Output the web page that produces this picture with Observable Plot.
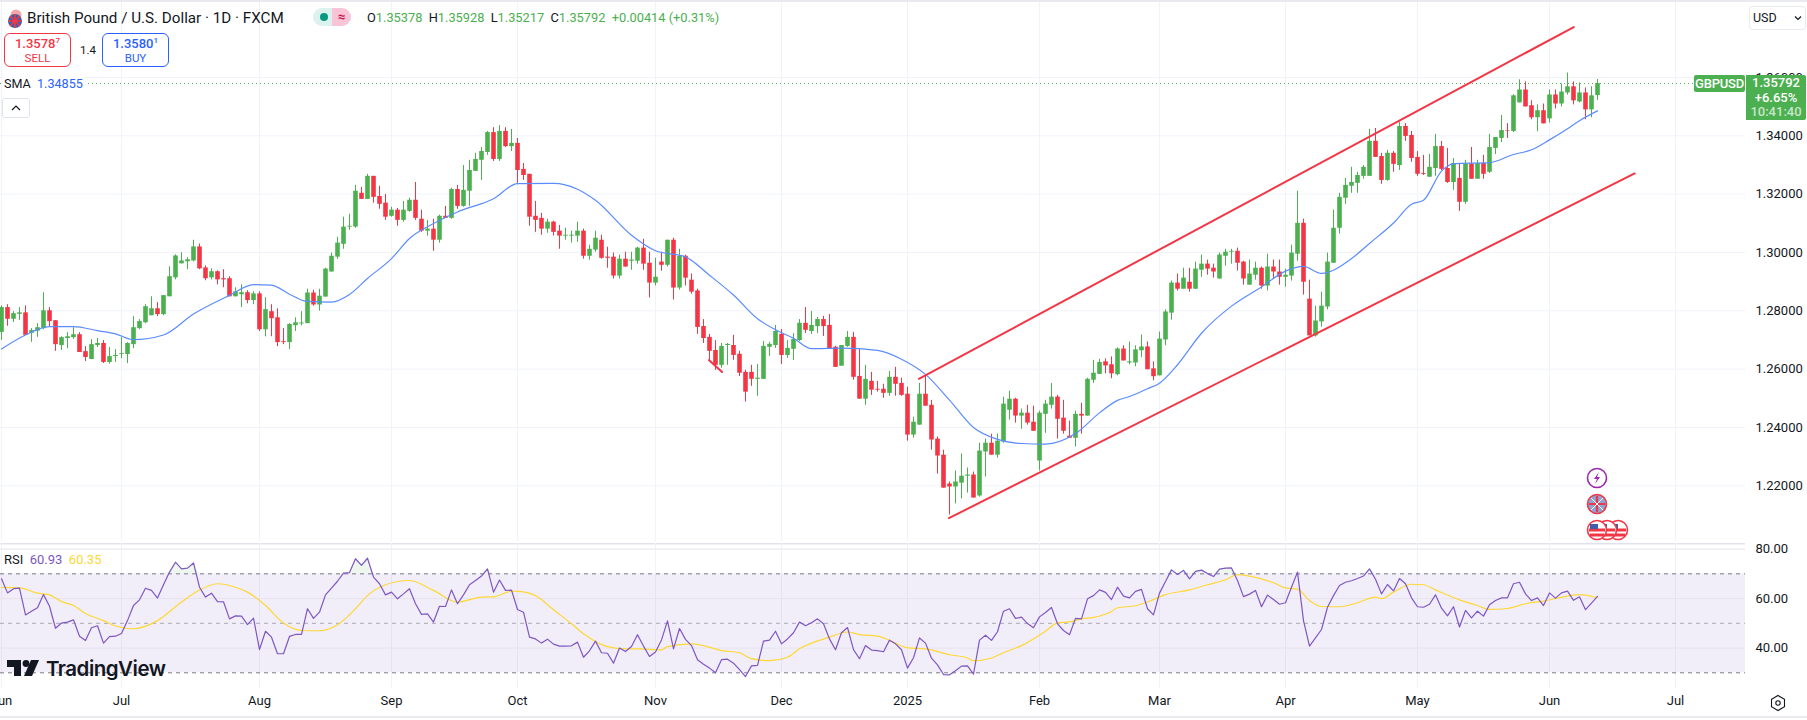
<!DOCTYPE html>
<html>
<head>
<meta charset="utf-8">
<script src="https://cdn.jsdelivr.net/npm/d3@7"></script>
<script src="https://cdn.jsdelivr.net/npm/@observablehq/plot@0.6"></script>
<style>
  html, body { margin: 0; padding: 0; background: #fff; }
  body { width: 1807px; height: 720px; overflow: hidden; font-family: Roboto, sans-serif; color: #131722; }
  #wrap { position: relative; width: 1807px; height: 720px; overflow: hidden; }
  #wrap svg { display: block; }
  .t { position: absolute; white-space: nowrap; font-size: 13px; line-height: 16px; }
  .g { color: #4caf50; }
  .box { position: absolute; box-sizing: border-box; border-radius: 6px; background: #fff; text-align: center; border: 1px solid; }
  .box b { display: block; font-weight: 500; font-size: 13px; line-height: 15px; margin-top: 2px; }
  .box i { display: block; font-style: normal; font-size: 11.5px; line-height: 14px; }
  .box sup { font-size: 8px; line-height: 0; }
  .tag { position: absolute; background: #4caf50; color: #fff; text-align: center; }
</style>
</head>
<body>
<div id="wrap">
  <div id="price" style="position:absolute;left:0;top:0"></div>
  <div id="rsi" style="position:absolute;left:0;top:543px"></div>

  <div style="position:absolute;left:0;top:0;width:1807px;height:2px;background:#e8eaf0"></div>
  <div style="position:absolute;left:0;top:716px;width:1807px;height:2px;background:#e8eaf0"></div>

  <!-- legend -->
  <svg style="position:absolute;left:4px;top:8px" width="22" height="22">
    <circle cx="12" cy="7" r="5.5" fill="#f2a7a7"/>
    <circle cx="11" cy="13" r="7" fill="#3f5fa8"/>
    <path d="M4 13h14M11 6v14M6 8l10 10M16 8L6 18" stroke="#f23645" stroke-width="1.6"/>
  </svg>
  <div class="t" style="left:27px;top:10px;font-size:15.2px">British Pound / U.S. Dollar · 1D · FXCM</div>
  <div style="position:absolute;left:313px;top:8px;width:19px;height:18px;background:#dcf2ef;border-radius:9px 0 0 9px"></div>
  <div style="position:absolute;left:332px;top:8px;width:19px;height:18px;background:#f8c4d6;border-radius:0 9px 9px 0;color:#d1104e;font-size:13px;line-height:18px;text-align:center;font-weight:700">≈</div>
  <div style="position:absolute;left:320px;top:13px;width:8px;height:8px;background:#089981;border-radius:50%"></div>
  <div class="t" style="left:367px;top:10px;font-size:12.8px">O<span class="g">1.35378</span>&nbsp;&nbsp;H<span class="g">1.35928</span>&nbsp;&nbsp;L<span class="g">1.35217</span>&nbsp;&nbsp;C<span class="g">1.35792</span>&nbsp;&nbsp;<span class="g">+0.00414 (+0.31%)</span></div>

  <div class="box" style="left:4px;top:33px;width:67px;height:34px;border-color:#f23645;color:#f23645"><b>1.3578<sup>7</sup></b><i>SELL</i></div>
  <div class="t" style="left:80px;top:42px;font-size:11.5px">1.4</div>
  <div class="box" style="left:102px;top:33px;width:67px;height:34px;border-color:#2962ff;color:#2962ff"><b>1.3580<sup>1</sup></b><i>BUY</i></div>

  <div class="t" style="left:4px;top:76px;background:#fff;padding-right:2px;font-size:12.6px">SMA&nbsp;&nbsp;<span style="color:#2962ff">1.34855</span></div>
  <div style="position:absolute;left:2px;top:98px;width:28px;height:20px;box-sizing:border-box;border:1px solid #e0e3eb;border-radius:3px;background:#fff">
    <svg width="26" height="18"><path d="M9 11l4-4 4 4" fill="none" stroke="#131722" stroke-width="1.2"/></svg>
  </div>

  <!-- right scale -->
  <div style="position:absolute;left:1749px;top:6px;width:57px;height:24px;box-sizing:border-box;border:1px solid #e8eaf0;border-radius:4px;background:#fff"></div>
  <div class="t" style="left:1753px;top:10px;font-size:12.5px">USD</div>
  <svg style="position:absolute;left:1794px;top:15px" width="9" height="7"><path d="M1 1.5l3 3 3-3" fill="none" stroke="#131722" stroke-width="1.2"/></svg>
  <div class="tag" style="left:1694px;top:75px;width:51px;height:17px;border-radius:2px;font-size:13px;line-height:17px;font-weight:500;letter-spacing:-0.2px">GBPUSD</div>
  <div class="tag" style="left:1746px;top:75px;width:60px;height:45px;border-radius:0 2px 2px 0;font-size:13px;line-height:14.5px;font-weight:500;padding-top:1px;box-sizing:border-box">1.35792<br>+6.65%<br><span style="color:#c8e6c9">10:41:40</span></div>

  <!-- event icons -->
  <svg style="position:absolute;left:1580px;top:465px" width="60" height="78">
    <circle cx="17" cy="13" r="9.5" fill="#fff" stroke="#9c27b0" stroke-width="1.6"/>
    <path d="M19 7l-5 7h3l-2 5 5-7h-3z" fill="#9c27b0"/>
    <circle cx="17" cy="39" r="9.5" fill="#8ea4d2" stroke="#f23645" stroke-width="1.6"/>
    <path d="M9 39h16M17 31v16" stroke="#e8394f" stroke-width="2.2"/><path d="M11 33l12 12M23 33L11 45" stroke="#fff" stroke-width="1"/>
    <circle cx="38" cy="65" r="9.5" fill="#fff" stroke="#f23645" stroke-width="1.6"/>
    <path d="M30 65h16M31 70h14" stroke="#f23645" stroke-width="3"/><path d="M30 59h8v5h-8z" fill="#3f5fa8"/>
    <circle cx="27" cy="65" r="9.5" fill="#fff" stroke="#f23645" stroke-width="1.6"/>
    <path d="M19 65h16M20 70h14" stroke="#f23645" stroke-width="3"/><path d="M19 59h8v5h-8z" fill="#3f5fa8"/>
    <circle cx="17" cy="65" r="9.5" fill="#fff" stroke="#f23645" stroke-width="1.6"/>
    <path d="M9 65h16M10 70h14" stroke="#f23645" stroke-width="3"/><path d="M10 59h8v5h-8z" fill="#3f5fa8"/>
  </svg>

  <!-- rsi legend -->
  <div class="t" style="left:4px;top:552px;font-size:13px">RSI&nbsp;&nbsp;<span style="color:#7e57c2">60.93</span>&nbsp;&nbsp;<span style="color:#fdd835">60.35</span></div>

  <!-- logo -->
  <svg style="position:absolute;left:7px;top:659px" width="34" height="18">
    <path d="M0 1h14v16H7V8H0z" fill="#131722"/>
    <circle cx="19" cy="4.5" r="3.4" fill="#131722"/>
    <path d="M24 1h8l-7 16h-8z" fill="#131722"/>
  </svg>
  <div class="t" style="left:46px;top:656px;font-size:20.5px;line-height:26px;font-weight:600;letter-spacing:-0.5px;font-family:Inter,Roboto,sans-serif">TradingView</div>

  <!-- settings -->
  <svg style="position:absolute;left:1769px;top:694px" width="18" height="18">
    <path d="M9 1.5l6.5 3.8v7.4L9 16.5l-6.5-3.8V5.3z" fill="none" stroke="#131722" stroke-width="1.1"/>
    <circle cx="9" cy="9" r="2.2" fill="none" stroke="#131722" stroke-width="1.1"/>
  </svg>
</div>

<script>
// GBPUSD daily candles, one value per session
const opens = [
  1.2726,1.2811,1.2771,1.2788,1.2793,1.2723,1.2730,1.2739,1.2800,1.2766,
  1.2681,1.2705,1.2708,1.2718,1.2660,1.2633,1.2681,1.2688,1.2623,1.2643,
  1.2650,1.2650,1.2684,1.2739,1.2759,1.2783,1.2807,1.2787,1.2848,1.2913,
  1.2961,1.2968,1.2971,1.3019,1.2947,1.2913,1.2934,1.2910,1.2910,1.2848,
  1.2855,1.2862,1.2835,1.2858,1.2735,1.2797,1.2776,1.2694,1.2691,1.2749,
  1.2755,1.2756,1.2861,1.2820,1.2847,1.2933,1.2984,1.3028,1.3087,1.3087,
  1.3203,1.3182,1.3261,1.3192,1.3169,1.3124,1.3145,1.3110,1.3141,1.3179,
  1.3114,1.3073,1.3080,1.3042,1.3124,1.3117,1.3216,1.3158,1.3210,1.3278,
  1.3316,1.3343,1.3411,1.3319,1.3415,1.3363,1.3374,1.3285,1.3268,1.3124,
  1.3117,1.3080,1.3104,1.3073,1.3056,1.3056,1.3056,1.3073,1.2987,1.3008,
  1.3042,1.2984,1.2984,1.2919,1.2977,1.2970,1.2970,1.3015,1.2963,1.2895,
  1.2967,1.2956,1.3042,1.2878,1.2987,1.2905,1.2868,1.2746,1.2709,1.2664,
  1.2613,1.2681,1.2681,1.2651,1.2589,1.2589,1.2565,1.2565,1.2675,1.2681,
  1.2719,1.2647,1.2668,1.2698,1.2757,1.2729,1.2746,1.2770,1.2750,1.2675,
  1.2610,1.2678,1.2709,1.2575,1.2497,1.2558,1.2531,1.2531,1.2517,1.2572,
  1.2551,1.2514,1.2374,1.2408,1.2514,1.2476,1.2360,1.2305,1.2206,1.2196,
  1.2209,1.2233,1.2237,1.2165,1.2316,1.2346,1.2305,1.2350,1.2459,1.2497,
  1.2439,1.2449,1.2418,1.2285,1.2445,1.2476,1.2504,1.2432,1.2370,1.2363,
  1.2445,1.2439,1.2562,1.2582,1.2625,1.2615,1.2581,1.2669,1.2621,1.2621,
  1.2663,1.2676,1.2601,1.2577,1.2700,1.2792,1.2895,1.2874,1.2898,1.2874,
  1.2939,1.2960,1.2946,1.2909,1.2987,1.3001,1.3004,1.2967,1.2888,1.2922,
  1.2946,1.2885,1.2950,1.2933,1.2915,1.2919,1.2994,1.3100,1.2840,1.2714,
  1.2762,1.2813,1.2963,1.3083,1.3186,1.3227,1.3237,1.3261,1.3261,1.3381,
  1.3329,1.3247,1.3340,1.3298,1.3432,1.3401,1.3326,1.3271,1.3258,1.3288,
  1.3363,1.3288,1.3240,1.3254,1.3172,1.3303,1.3251,1.3305,1.3275,1.3357,
  1.3391,1.3418,1.3415,1.3513,1.3557,1.3503,1.3462,1.3486,1.3458,1.3540,
  1.3509,1.3547,1.3568,1.3516,1.3547,1.3489,1.35378
];
const highs = [
  1.2817,1.2821,1.2797,1.2811,1.2817,1.2739,1.2756,1.2862,1.2811,1.2766,
  1.2711,1.2725,1.2742,1.2725,1.2677,1.2701,1.2705,1.2698,1.2674,1.2667,
  1.2708,1.2691,1.2780,1.2770,1.2821,1.2848,1.2828,1.2852,1.2951,1.2992,
  1.2999,1.2982,1.3042,1.3029,1.2954,1.2944,1.2937,1.2941,1.2917,1.2879,
  1.2889,1.2869,1.2865,1.2865,1.2845,1.2821,1.2807,1.2739,1.2756,1.2776,
  1.2797,1.2874,1.2871,1.2874,1.2946,1.2998,1.3052,1.3121,1.3131,1.3230,
  1.3223,1.3268,1.3261,1.3227,1.3199,1.3155,1.3151,1.3175,1.3186,1.3240,
  1.3145,1.3110,1.3114,1.3128,1.3158,1.3220,1.3230,1.3298,1.3316,1.3340,
  1.3360,1.3415,1.3428,1.3435,1.3428,1.3422,1.3391,1.3305,1.3268,1.3175,
  1.3134,1.3114,1.3107,1.3093,1.3083,1.3073,1.3104,1.3080,1.3025,1.3073,
  1.3059,1.3018,1.2998,1.2991,1.3001,1.3001,1.3018,1.3045,1.3001,1.2980,
  1.3001,1.3042,1.3049,1.3011,1.2991,1.2926,1.2874,1.2770,1.2719,1.2698,
  1.2688,1.2688,1.2716,1.2661,1.2596,1.2613,1.2616,1.2695,1.2692,1.2750,
  1.2736,1.2698,1.2722,1.2770,1.2811,1.2798,1.2777,1.2781,1.2787,1.2678,
  1.2681,1.2729,1.2726,1.2668,1.2613,1.2589,1.2558,1.2548,1.2592,1.2606,
  1.2569,1.2538,1.2435,1.2551,1.2579,1.2493,1.2367,1.2322,1.2213,1.2251,
  1.2309,1.2261,1.2247,1.2346,1.2360,1.2377,1.2377,1.2504,1.2524,1.2500,
  1.2463,1.2476,1.2473,1.2456,1.2493,1.2551,1.2510,1.2493,1.2422,1.2456,
  1.2483,1.2569,1.2630,1.2634,1.2635,1.2642,1.2673,1.2680,1.2693,1.2680,
  1.2717,1.2693,1.2625,1.2727,1.2803,1.2902,1.2926,1.2946,1.2946,1.2967,
  1.2991,1.2974,1.2960,1.2998,1.3011,1.3011,1.3015,1.2970,1.2974,1.2967,
  1.2950,1.2994,1.2974,1.2974,1.2943,1.3025,1.3210,1.3114,1.2905,1.2816,
  1.2864,1.2998,1.3145,1.3203,1.3254,1.3292,1.3275,1.3298,1.3422,1.3425,
  1.3340,1.3350,1.3346,1.3446,1.3442,1.3415,1.3346,1.3333,1.3336,1.3405,
  1.3381,1.3357,1.3322,1.3302,1.3316,1.3360,1.3316,1.3333,1.3405,1.3394,
  1.3470,1.3442,1.3541,1.3592,1.3585,1.3520,1.3506,1.3509,1.3557,1.3557,
  1.3578,1.3615,1.3585,1.3581,1.3564,1.3568,1.35928
];
const lows = [
  1.2699,1.2747,1.2760,1.2767,1.2715,1.2692,1.2709,1.2735,1.2743,1.2661,
  1.2664,1.2670,1.2702,1.2657,1.2626,1.2633,1.2674,1.2619,1.2617,1.2623,
  1.2636,1.2619,1.2670,1.2735,1.2756,1.2783,1.2780,1.2783,1.2848,1.2906,
  1.2961,1.2941,1.2968,1.2941,1.2903,1.2906,1.2889,1.2879,1.2848,1.2848,
  1.2811,1.2824,1.2821,1.2729,1.2711,1.2711,1.2677,1.2684,1.2667,1.2729,
  1.2748,1.2756,1.2816,1.2799,1.2847,1.2933,1.2977,1.3011,1.3076,1.3083,
  1.3182,1.3182,1.3169,1.3148,1.3110,1.3121,1.3090,1.3104,1.3138,1.3110,
  1.3069,1.3056,1.3004,1.3032,1.3117,1.3114,1.3148,1.3155,1.3158,1.3278,
  1.3247,1.3333,1.3312,1.3312,1.3360,1.3346,1.3237,1.3247,1.3090,1.3069,
  1.3059,1.3066,1.3056,1.3011,1.3042,1.3032,1.3035,1.2977,1.2974,1.3001,
  1.2977,1.2946,1.2909,1.2909,1.2950,1.2939,1.2960,1.2939,1.2844,1.2885,
  1.2936,1.2950,1.2837,1.2871,1.2885,1.2857,1.2719,1.2688,1.2630,1.2596,
  1.2603,1.2613,1.2630,1.2575,1.2487,1.2541,1.2507,1.2565,1.2644,1.2671,
  1.2616,1.2637,1.2630,1.2695,1.2722,1.2719,1.2722,1.2712,1.2668,1.2606,
  1.2610,1.2675,1.2562,1.2497,1.2476,1.2510,1.2521,1.2500,1.2507,1.2507,
  1.2507,1.2353,1.2363,1.2408,1.2473,1.2322,1.2240,1.2192,1.2100,1.2138,
  1.2155,1.2175,1.2158,1.2161,1.2230,1.2305,1.2295,1.2346,1.2425,1.2415,
  1.2394,1.2408,1.2387,1.2251,1.2380,1.2463,1.2360,1.2377,1.2363,1.2333,
  1.2377,1.2439,1.2551,1.2582,1.2584,1.2567,1.2577,1.2628,1.2615,1.2608,
  1.2639,1.2598,1.2560,1.2577,1.2680,1.2768,1.2868,1.2874,1.2864,1.2874,
  1.2915,1.2922,1.2912,1.2909,1.2953,1.2960,1.2936,1.2888,1.2888,1.2905,
  1.2874,1.2868,1.2909,1.2888,1.2881,1.2902,1.2970,1.2854,1.2714,1.2710,
  1.2744,1.2803,1.2963,1.3063,1.3165,1.3203,1.3203,1.3251,1.3261,1.3326,
  1.3234,1.3244,1.3275,1.3281,1.3381,1.3309,1.3261,1.3264,1.3258,1.3261,
  1.3281,1.3237,1.3213,1.3141,1.3165,1.3251,1.3251,1.3251,1.3271,1.3336,
  1.3377,1.3391,1.3411,1.3513,1.3499,1.3455,1.3414,1.3441,1.3444,1.3492,
  1.3499,1.3540,1.3506,1.3513,1.3455,1.3462,1.35217
];
const closes = [
  1.2811,1.2771,1.2790,1.2793,1.2716,1.2732,1.2742,1.2800,1.2763,1.2684,
  1.2708,1.2711,1.2718,1.2657,1.2640,1.2684,1.2688,1.2623,1.2643,1.2647,
  1.2653,1.2688,1.2742,1.2763,1.2814,1.2807,1.2787,1.2852,1.2917,1.2988,
  1.2971,1.2975,1.3019,1.2944,1.2910,1.2934,1.2906,1.2906,1.2848,1.2865,
  1.2862,1.2835,1.2858,1.2735,1.2804,1.2773,1.2691,1.2691,1.2753,1.2759,
  1.2758,1.2861,1.2820,1.2850,1.2943,1.2987,1.3032,1.3087,1.3090,1.3210,
  1.3182,1.3261,1.3189,1.3165,1.3121,1.3145,1.3110,1.3145,1.3179,1.3117,
  1.3073,1.3080,1.3042,1.3124,1.3117,1.3216,1.3158,1.3213,1.3281,1.3319,
  1.3346,1.3411,1.3319,1.3415,1.3363,1.3374,1.3281,1.3264,1.3121,1.3110,
  1.3080,1.3104,1.3069,1.3056,1.3059,1.3059,1.3073,1.2987,1.3011,1.3049,
  1.2980,1.2980,1.2919,1.2977,1.2950,1.2974,1.3015,1.2960,1.2895,1.2915,
  1.2956,1.3042,1.2878,1.2987,1.2912,1.2864,1.2743,1.2705,1.2661,1.2613,
  1.2678,1.2685,1.2647,1.2586,1.2521,1.2565,1.2569,1.2678,1.2685,1.2729,
  1.2647,1.2671,1.2702,1.2757,1.2733,1.2750,1.2770,1.2746,1.2671,1.2606,
  1.2681,1.2709,1.2572,1.2497,1.2565,1.2528,1.2528,1.2517,1.2572,1.2548,
  1.2510,1.2374,1.2418,1.2514,1.2473,1.2357,1.2302,1.2192,1.2196,1.2213,
  1.2233,1.2237,1.2158,1.2319,1.2346,1.2305,1.2353,1.2480,1.2497,1.2439,
  1.2449,1.2415,1.2387,1.2449,1.2480,1.2504,1.2428,1.2387,1.2363,1.2445,
  1.2439,1.2565,1.2586,1.2623,1.2611,1.2584,1.2669,1.2628,1.2625,1.2666,
  1.2676,1.2598,1.2574,1.2703,1.2796,1.2895,1.2874,1.2912,1.2874,1.2943,
  1.2960,1.2943,1.2933,1.2991,1.3001,1.3004,1.2963,1.2909,1.2926,1.2946,
  1.2885,1.2950,1.2933,1.2915,1.2922,1.2998,1.3100,1.2898,1.2714,1.2765,
  1.2816,1.2967,1.3083,1.3189,1.3230,1.3240,1.3264,1.3292,1.3381,1.3326,
  1.3247,1.3340,1.3302,1.3432,1.3398,1.3322,1.3268,1.3268,1.3292,1.3363,
  1.3285,1.3240,1.3305,1.3172,1.3303,1.3251,1.3305,1.3268,1.3360,1.3394,
  1.3418,1.3416,1.3537,1.3557,1.3499,1.3462,1.3486,1.3441,1.3540,1.3509,
  1.3550,1.3568,1.3520,1.3547,1.3489,1.3537,1.35792
];

// SMA read at sample sessions
const smaIdx = [0,4,8,12,16,19,22,27,32,38,42,45,48,51,55,58,61,65,68,72,76,82,86,92,96,99,105,109,114,118,122,126,129,132,135,140,146,150,154,158,162,166,170,174,179,183,186,188,191,193,196,200,205,210,214,217,220,225,228,232,235,237,240,242,248,252,255,258,261,263,266];
const smaVal = [1.2669,1.2717,1.2746,1.2746,1.2732,1.2721,1.2701,1.2717,1.2789,1.2853,1.2890,1.2888,1.2857,1.2832,1.2830,1.2856,1.2911,1.2979,1.3048,1.3099,1.3139,1.3184,1.3236,1.3237,1.3217,1.3179,1.3059,1.3006,1.2985,1.2922,1.2854,1.2773,1.2735,1.2706,1.2670,1.2672,1.2664,1.2634,1.2582,1.2494,1.2400,1.2359,1.2345,1.2343,1.2379,1.2450,1.2493,1.2506,1.2533,1.2552,1.2615,1.2723,1.2816,1.2882,1.2936,1.2952,1.2928,1.2979,1.3031,1.3101,1.3165,1.3179,1.3279,1.3304,1.3308,1.3336,1.3352,1.3386,1.3424,1.3452,1.34855];

// drawn trend lines: [session, price] ends
const channelUpper = {idx: [152.9, 262.05], val: [1.2567, 1.3773]};
const channelLower = {idx: [157.9, 272.2], val: [1.2089, 1.3271]};
const slash = {idx: [117.9, 120.1], val: [1.2631, 1.2590]};

const lastPrice = 1.35792;
const priceTicks = [1.22, 1.24, 1.26, 1.28, 1.30, 1.32, 1.34, 1.36];

const rsiVal = [
  68.0,62.3,64.0,64.2,53.4,54.9,56.3,61.6,56.9,48.0,
  50.1,50.5,51.4,44.8,43.1,48.2,49.0,42.0,44.6,44.8,
  45.9,51.1,57.2,59.5,64.2,63.3,60.2,65.6,70.7,74.7,
  72.0,72.3,74.4,64.6,60.6,62.2,58.8,58.7,51.8,53.0,
  52.9,49.5,52.1,39.4,46.8,44.4,37.7,37.7,44.7,45.5,
  45.5,55.9,52.0,54.5,61.5,64.2,67.0,70.3,70.5,76.1,
  73.4,76.3,68.7,66.0,61.5,62.6,59.9,61.9,64.0,57.9,
  53.6,53.8,50.5,56.9,56.8,63.5,57.9,61.5,65.6,67.3,
  69.1,72.0,62.6,67.5,63.3,63.4,55.6,
  54.5,44.4,43.7,42.0,43.6,41.6,40.8,40.8,40.9,42.4,
  36.3,38.9,42.8,38.1,37.9,33.9,40.0,38.6,40.6,45.4,
  40.8,36.6,38.4,43.3,51.0,39.7,47.9,43.5,41.0,35.3,
  33.5,31.9,30.0,35.3,35.5,33.9,31.3,28.5,32.8,33.0,
  42.8,43.2,46.8,41.7,43.7,46.2,50.5,49.0,50.2,51.8,
  49.8,43.7,39.3,46.2,48.3,39.4,35.7,41.0,39.2,39.0,
  38.5,43.2,41.7,39.3,31.9,36.1,44.1,42.0,35.9,33.2,
  29.3,29.2,30.8,32.7,32.8,29.5,43.2,45.2,43.1,46.6,
  54.9,55.9,52.0,52.5,49.9,48.2,52.6,
  54.4,56.4,49.8,47.1,45.4,52.0,51.8,59.9,61.2,63.5,
  62.5,59.6,64.6,61.0,60.3,62.9,63.7,55.9,53.4,62.2,
  66.9,71.6,69.7,71.4,68.0,71.0,71.5,70.1,68.9,71.9,
  72.3,72.4,67.3,60.8,61.8,63.3,56.7,61.4,59.6,57.7,
  58.3,64.6,70.7,51.1,40.8,44.1,47.5,56.5,61.2,65.3,
  66.6,67.2,68.1,69.1,72.0,67.8,61.9,65.7,63.1,68.1,
  66.0,60.3,56.7,56.5,57.7,61.5,56.1,53.0,56.7,48.5,
  55.2,52.2,54.9,52.9,57.5,59.2,60.3,60.3,66.0,66.6,
  61.9,59.2,60.3,57.2,62.3,60.2,62.3,
  63.0,59.3,60.7,55.5,58.2,60.93
];

// RSI moving average read at sample sessions
const rsiMaIdx = [0,3,6,8,10,12,14,17,19,22,26,30,33,36,39,41,44,47,50,53,56,59,61,64,68,72,76,80,82,85,87,90,91,95,97,101,104,106,110,111,115,117,120,123,125,128,131,133,138,141,143,146,148,151,154,158,161,162,165,167,170,174,176,178,180,182,185,186,189,192,194,198,201,204,206,208,212,214,216,218,220,223,226,229,230,232,235,237,239,243,246,248,251,254,257,261,263,266];
const rsiMaVal = [64.5,64.3,62.2,61.5,58.8,57.2,54.0,51.1,48.9,47.8,51.1,58.6,63.5,66.0,64.6,62.6,57.2,50.1,47.1,47.0,49.4,55.9,61.2,65.6,67.3,63.3,58.6,60.6,60.7,63.0,62.7,59.6,57.5,49.8,45.8,40.6,39.7,39.7,39.3,40.6,41.7,41.0,39.0,38.1,35.7,34.9,36.3,39.7,44.4,46.5,45.4,44.8,43.1,40.1,39.7,37.3,36.0,34.9,36.0,38.1,41.0,46.8,50.2,50.6,51.8,52.4,54.8,56.3,57.1,59.6,61.6,63.5,65.6,67.6,69.7,69.1,66.4,64.3,63.8,59.2,56.8,56.7,58.3,60.6,60.0,62.6,65.8,65.6,63.5,59.5,57.2,55.6,56.0,57.9,59.0,61.0,61.6,60.35];

const monthIdx = [0,20,43,65,86,109,130,151,173,193,214,236,258,279];
const monthLabels = ["Jun","Jul","Aug","Sep","Oct","Nov","Dec","2025","Feb","Mar","Apr","May","Jun","Jul"];

const green = "#4caf50", red = "#f23645", gridCol = "#f0f3fa";
const candles = opens.map((o, i) => ({i, o, h: highs[i], l: lows[i], c: closes[i]}));
const colorOf = d => d.c >= d.o ? green : red;
const rows = (t) => t.idx.map((x, k) => ({x, y: t.val[k]}));
const sma = smaIdx.map((x, k) => ({x, y: smaVal[k]}));
const rsi = rsiVal.map((y, x) => ({x, y}));
const rsiMa = rsiMaIdx.map((x, k) => ({x, y: rsiMaVal[k]}));

// 6px per session, pane ends where the price scale starts
const xDomain = [-1/6, 1744/6];
const font = "Roboto, sans-serif";

let pricePlot = Plot.plot({
  width: 1807, height: 542,
  marginLeft: 0, marginRight: 62, marginTop: 0, marginBottom: 0,
  style: {background: "transparent", fontFamily: font, fontSize: "13px", color: "#131722"},
  x: {domain: xDomain, axis: null},
  y: {domain: [1.20056, 1.38639], axis: null},
  marks: [
    Plot.gridY(priceTicks, {stroke: gridCol, strokeOpacity: 1, strokeWidth: 1}),
    Plot.ruleX(monthIdx, {stroke: gridCol, strokeOpacity: 1}),
    Plot.ruleX(candles, {x: "i", y1: "l", y2: "h", stroke: colorOf, strokeWidth: 1}),
    Plot.ruleX(candles, {x: "i", y1: "o", y2: "c", stroke: colorOf, strokeWidth: 4.6}),
    Plot.line(sma, {x: "x", y: "y", stroke: "#5b8cff", strokeWidth: 1.2, curve: "monotone-x"}),
    Plot.ruleY([lastPrice], {stroke: green, strokeDasharray: "1 3", strokeWidth: 1}),
    Plot.line(rows(channelUpper), {x: "x", y: "y", stroke: red, strokeWidth: 2}),
    Plot.line(rows(channelLower), {x: "x", y: "y", stroke: red, strokeWidth: 2}),
    Plot.line(rows(slash), {x: "x", y: "y", stroke: red, strokeWidth: 2}),
    Plot.axisY(priceTicks, {anchor: "right", tickSize: 0, tickPadding: 10, label: null, tickFormat: d => d.toFixed(5), textAnchor: "start"})
  ]
});
d3.select("#price").append(() => pricePlot);

let rsiPlot = Plot.plot({
  width: 1807, height: 177,
  marginLeft: 0, marginRight: 62, marginTop: 0, marginBottom: 32,
  style: {background: "transparent", fontFamily: font, fontSize: "13px", color: "#131722"},
  x: {domain: xDomain, axis: null},
  y: {domain: [23.66, 82.26], axis: null},
  marks: [
    Plot.ruleY([0], {y: () => 82.26, stroke: "#e0e3eb", strokeWidth: 2}),
    Plot.ruleX(monthIdx, {stroke: gridCol, strokeOpacity: 1}),
    Plot.rect([0], {x1: xDomain[0], x2: xDomain[1], y1: 30, y2: 70, fill: "#7e57c2", fillOpacity: 0.1}),
    Plot.gridY([40, 60, 80], {stroke: "#e6e3ee", strokeOpacity: 1}),
    Plot.ruleY([70, 30], {stroke: "#787b86", strokeDasharray: "4 4"}),
    Plot.ruleY([50], {stroke: "#787b86", strokeOpacity: 0.6, strokeDasharray: "4 4"}),
    Plot.areaY(rsi, {x: "x", y1: 70, y2: d => Math.max(d.y, 70), fill: green, fillOpacity: 0.1}),
    Plot.line(rsiMa, {x: "x", y: "y", stroke: "#fdd835", strokeWidth: 1.2, curve: "monotone-x"}),
    Plot.line(rsi, {x: "x", y: "y", stroke: "#7e57c2", strokeWidth: 1.2}),
    Plot.axisY([40, 60, 80], {anchor: "right", tickSize: 0, tickPadding: 10, label: null, tickFormat: d => d.toFixed(2), textAnchor: "start"}),
    Plot.text(monthLabels, {
      x: monthIdx, text: d => d, frameAnchor: "bottom", dy: 16, fill: "#131722",
      fontWeight: d => d === "2025" ? 700 : 400
    })
  ]
});
d3.select("#rsi").append(() => rsiPlot);
</script>
</body>
</html>
